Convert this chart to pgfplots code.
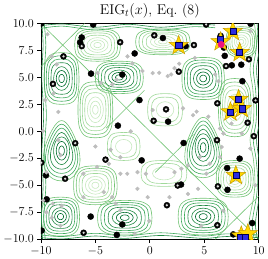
\documentclass[border=0pt]{standalone}
\usepackage{pgfplots}
\usepackage{pgfplotstable}
\pgfplotsset{compat=1.18}
\definecolor{g1}{HTML}{C7E9C0}
\definecolor{g2}{HTML}{A1D99B}
\definecolor{g3}{HTML}{74C476}
\definecolor{g4}{HTML}{41AB5D}
\definecolor{g5}{HTML}{238B45}
\definecolor{g6}{HTML}{006D2C}
\definecolor{grayp}{HTML}{BDBDBD}
\definecolor{starc}{HTML}{FFD700}
\definecolor{stare}{HTML}{C89B00}
\definecolor{sqc}{HTML}{2B2BE0}
\definecolor{pinkc}{HTML}{F0147F}
\pgfdeclareplotmark{fstar}{%
 \pgfpathmoveto{\pgfqpoint{0pt}{\pgfplotmarksize}}%
 \pgfpathlineto{\pgfqpoint{-0.247\pgfplotmarksize}{0.340\pgfplotmarksize}}%
 \pgfpathlineto{\pgfqpoint{-0.951\pgfplotmarksize}{0.309\pgfplotmarksize}}%
 \pgfpathlineto{\pgfqpoint{-0.399\pgfplotmarksize}{-0.130\pgfplotmarksize}}%
 \pgfpathlineto{\pgfqpoint{-0.588\pgfplotmarksize}{-0.809\pgfplotmarksize}}%
 \pgfpathlineto{\pgfqpoint{0pt}{-0.42\pgfplotmarksize}}%
 \pgfpathlineto{\pgfqpoint{0.588\pgfplotmarksize}{-0.809\pgfplotmarksize}}%
 \pgfpathlineto{\pgfqpoint{0.399\pgfplotmarksize}{-0.130\pgfplotmarksize}}%
 \pgfpathlineto{\pgfqpoint{0.951\pgfplotmarksize}{0.309\pgfplotmarksize}}%
 \pgfpathlineto{\pgfqpoint{0.247\pgfplotmarksize}{0.340\pgfplotmarksize}}%
 \pgfpathclose\pgfusepathqfillstroke}
% unit ring shapes
\pgfplotstableread{
u v
1 0
0.924 0.383
0.707 0.707
0.383 0.924
0 1
-0.383 0.924
-0.707 0.707
-0.924 0.383
-1 0
-0.924 -0.383
-0.707 -0.707
-0.383 -0.924
0 -1
0.383 -0.924
0.707 -0.707
0.924 -0.383
1 0
0.924 0.383
}\tblC
\pgfplotstableread{
u v
1 0
0.949 0.527
0.794 0.794
0.527 0.949
0 1
-0.527 0.949
-0.794 0.794
-0.949 0.527
-1 0
-0.949 -0.527
-0.794 -0.794
-0.527 -0.949
0 -1
0.527 -0.949
0.794 -0.794
0.949 -0.527
1 0
0.949 0.527
}\tblS
\pgfplotstableread{
u v
1 0
0.80 0.383
0.53 0.707
0.26 0.924
0 1
-0.26 0.924
-0.53 0.707
-0.80 0.383
-1 0
-1.05 -0.383
-0.88 -0.707
-0.51 -0.924
0 -1
0.51 -0.924
0.88 -0.707
1.05 -0.383
1 0
0.80 0.383
}\tblT
\newcommand{\ring}[6]{\addplot[smooth,tension=0.6,draw=#6,line width=0.6pt,forget plot] table[x expr={#2+#4*\thisrow{u}}, y expr={#3+#5*\thisrow{v}}]{#1};}
\newcommand{\nestD}[5]{%
 \ring{\tblC}{#2}{#3}{0.16*#4}{0.16*#5}{g6}%
 \ring{\tblC}{#2}{#3}{0.31*#4}{0.31*#5}{g6}%
 \ring{\tblC}{#2}{#3}{0.46*#4}{0.46*#5}{g5}%
 \ring{#1}{#2}{#3}{0.61*#4}{0.61*#5}{g5}%
 \ring{#1}{#2}{#3}{0.75*#4}{0.75*#5}{g4}%
 \ring{#1}{#2}{#3}{0.88*#4}{0.88*#5}{g4}%
 \ring{#1}{#2}{#3}{1.0*#4}{1.0*#5}{g3}}
\newcommand{\nestL}[5]{%
 \ring{\tblC}{#2}{#3}{0.16*#4}{0.16*#5}{g1}%
 \ring{\tblC}{#2}{#3}{0.31*#4}{0.31*#5}{g1}%
 \ring{\tblC}{#2}{#3}{0.46*#4}{0.46*#5}{g1}%
 \ring{#1}{#2}{#3}{0.61*#4}{0.61*#5}{g2}%
 \ring{#1}{#2}{#3}{0.75*#4}{0.75*#5}{g2}%
 \ring{#1}{#2}{#3}{0.88*#4}{0.88*#5}{g3}%
 \ring{#1}{#2}{#3}{1.0*#4}{1.0*#5}{g3}}
\newcommand{\nestLs}[5]{%
 \ring{\tblC}{#2}{#3}{0.5*#4}{0.5*#5}{g1}%
 \ring{#1}{#2}{#3}{0.78*#4}{0.78*#5}{g2}%
 \ring{#1}{#2}{#3}{1.0*#4}{1.0*#5}{g2}}
\begin{document}
\begin{tikzpicture}
\begin{axis}[
 scale only axis, width=216pt, height=214pt,
 xmin=-10,xmax=10,ymin=-10,ymax=10,
 xtick={-10,-5,0,5,10},
 ytick={-10,-7.5,-5,-2.5,0,2.5,5,7.5,10},
 tick align=outside, tick pos=left, major tick length=3.5pt,
 tick style={black, line width=0.7pt},
 yticklabel style={/pgf/number format/.cd,fixed,fixed zerofill,precision=1},
 ticklabel style={font=\fontsize{12}{12}\selectfont},
 title={EIG$_t(x)$, Eq.~(8)},
 title style={font=\fontsize{14}{16}\selectfont, yshift=-4pt},
 axis line style={black, line width=0.8pt},
 clip marker paths=true,
]
% ---- contours: maxima (dark) ----
\nestD{\tblS}{-8.1}{4.9}{1.6}{2.4}
\nestD{\tblS}{-2.8}{5.0}{2.2}{1.5}
\nestD{\tblS}{4.9}{4.9}{1.95}{1.95}
\nestD{\tblT}{-8.1}{-1.8}{1.6}{2.8}
\nestD{\tblT}{4.9}{-1.5}{1.6}{2.8}
\nestD{\tblS}{-8.2}{-7.9}{1.75}{1.8}
\nestD{\tblS}{-2.3}{-8.0}{2.5}{1.6}
\nestD{\tblS}{4.9}{-7.9}{2.3}{1.7}
% ---- contours: minima (light) ----
\nestLs{\tblS}{-2.4}{-1.4}{1.5}{1.3}
\nestL{\tblS}{-4.8}{8.0}{2.1}{1.5}
\nestL{\tblS}{1.2}{8.3}{2.5}{1.2}
\nestL{\tblS}{-5.0}{2.0}{1.6}{2.6}
\nestLs{\tblS}{1.4}{2.0}{1.6}{1.5}
\nestL{\tblS}{7.8}{2.2}{1.5}{2.7}
\nestL{\tblS}{-5.0}{-5.0}{2.0}{1.8}
\nestLs{\tblS}{1.3}{-3.9}{2.1}{1.2}
\nestL{\tblS}{7.8}{-4.4}{1.7}{1.7}
\nestL{\tblS}{8.4}{8.3}{1.4}{1.4}
% ---- saddle lines ----
\addplot[g3,line width=0.6pt,forget plot] coordinates {(-10,10) (10,-10)};
\addplot[g3,line width=0.6pt,forget plot] coordinates {(-10,6) (-6,10)};
\addplot[g3,line width=0.6pt,forget plot] coordinates {(6,-10) (10,-6)};
\addplot[g3,line width=0.6pt,forget plot] coordinates {(-4,0.3) (-0.5,3.8)};
\addplot[g3,line width=0.6pt,forget plot] coordinates {(0.5,-3.8) (4,-0.3)};
% ---- edge crowding ----
\addplot[smooth,g3,line width=0.6pt,forget plot] coordinates {(9.3,-10) (9.1,-8.5) (9.55,-6) (9.65,-4.4) (9.5,-2.5) (9.2,-0.8) (9.5,0.8) (9.55,2.2) (9.45,4) (9.2,5.8) (9.5,7.5) (9.7,9) (9.6,10)};
\addplot[smooth,g4,line width=0.6pt,forget plot] coordinates {(9.6,-10) (9.4,-8.5) (9.8,-6) (9.9,-4.4) (9.75,-2.5) (9.5,-0.8) (9.75,0.8) (9.8,2.2) (9.7,4) (9.5,5.8) (9.75,7.5) (9.9,9) (9.85,10)};
\addplot[smooth,g5,line width=0.6pt,forget plot] coordinates {(9.9,-10) (9.7,-8.5) (10.05,-6) (10.1,-4.4) (10,-2.5) (9.8,-0.8) (10.05,0.8) (10.1,2.2) (9.95,4) (9.8,5.8) (10.05,7.5)};
\addplot[smooth,g4,line width=0.6pt,forget plot] coordinates {(-9.6,-10) (-9.75,-8) (-9.55,-5) (-9.7,-2) (-9.5,1.5) (-9.7,5) (-9.55,8) (-9.7,10)};
\addplot[smooth,g5,line width=0.6pt,forget plot] coordinates {(-9.85,-10) (-9.95,-8) (-9.8,-5) (-9.92,-2) (-9.75,1.5) (-9.92,5) (-9.8,8) (-9.92,10)};
\addplot[smooth,g4,line width=0.6pt,forget plot] coordinates {(-10,9.55) (-8,9.75) (-5,9.4) (-2,9.7) (1,9.4) (4,9.7) (6,9.6)};
\addplot[smooth,g5,line width=0.6pt,forget plot] coordinates {(-10,9.8) (-8,9.95) (-5,9.65) (-2,9.92) (1,9.65) (4,9.92) (6,9.85)};
\addplot[smooth,g4,line width=0.6pt,forget plot] coordinates {(-10,-9.6) (-8,-9.75) (-5,-9.45) (-2.3,-9.7) (1,-9.4) (4.9,-9.7) (7,-9.5) (10,-9.6)};
\addplot[smooth,g5,line width=0.6pt,forget plot] coordinates {(-10,-9.85) (-8,-9.97) (-5,-9.7) (-2.3,-9.92) (1,-9.65) (4.9,-9.92) (7,-9.75) (10,-9.85)};
% ---- black points ----
\addplot[only marks, mark=*, mark size=3pt, black] coordinates {
(-9.95,10.0) (-5.2,9.9) (-6.25,8.7) (-6.4,8.25) (-7.93,6.95) (-6.25,7.9) (-8.9,4.4)
(-5.4,5.35) (-2.72,8.26) (-1.39,7.22) (0.41,8.9) (1.2,8.65) (-2.53,5.26) (2.66,5.53)
(3.3,7.9) (4.05,8.0) (5.17,9.9) (9.25,9.97) (6.5,8.85) (6.8,7.76) (6.88,7.0) (7.0,6.05)
(7.53,6.12) (8.4,6.18) (9.1,6.68) (8.5,4.65) (-0.95,2.9) (1.49,2.04) (0.35,0.98)
(1.68,0.9) (-2.93,0.53) (3.1,-1.08) (-0.75,-2.69) (6.2,2.6) (9.7,2.87) (8.98,0.8)
(9.55,-0.45) (6.17,-0.82) (8.25,-2.53) (7.1,-3.4) (7.13,-5.42) (6.25,-5.1) (2.56,-5.02)
(2.87,-4.93) (1.57,-6.85) (6.2,-8.7) (7.66,-9.55) (9.4,-8.5) (-6.85,-1.1) (-9.97,-2.9)
(-9.54,-4.08) (-7.78,-4.39) (-4.07,-2.62) (-9.47,-6.3) (-5.43,-7.9) (-2.53,-8.63)
(-9.94,-9.2) (-6.08,-9.4) (-3.03,-9.6)
};
% ---- gray points ----
\addplot[only marks, mark=*, mark size=1.9pt, grayp, mark options={draw=grayp,fill=grayp}] coordinates {
(-9.4,9.0) (-8.55,6.2) (-9.0,6.95) (-8.85,3.5) (-9.6,2.9) (-8.4,1.8) (-9.8,0.05)
(-8.4,-0.8) (-8.2,-2.2) (-9.5,-3.8) (-9.8,-6.4) (-8.9,-6.7) (-8.1,-6.9) (-9.5,-7.5)
(-9.0,-8.0) (-8.2,-8.75) (-4.8,5.4) (-4.5,4.5) (-3.45,4.35) (-3.05,4.8) (-2.05,6.95)
(-1.6,6.3) (-0.68,5.6) (0.26,5.4) (0.86,5.43) (1.64,5.12) (1.96,5.28) (2.7,6.27)
(2.27,5.86) (4.13,6.8) (6.0,5.28) (6.3,4.65) (9.25,9.3) (3.05,2.13) (3.97,1.5)
(4.3,1.83) (5.37,1.36) (6.45,0.27) (0.26,1.97) (-1.75,0.0) (-5.0,-1.4) (-3.6,-1.7)
(-2.7,-2.4) (-3.76,-3.0) (-4.85,-3.3) (-6.1,-3.93) (-2.7,-3.93) (-2.07,-3.93)
(-1.13,-3.78) (-0.36,-3.93) (-4.23,-5.63) (-3.45,-6.1) (-1.14,-5.33) (-0.2,-6.1)
(-6.1,-6.1) (-2.7,-7.3) (-3.14,-6.7) (2.27,-3.78) (2.9,-3.47) (3.5,-3.16) (4.6,-2.38)
(5.5,-3.0) (5.2,-3.93) (6.45,-2.38) (6.6,-1.45) (6.75,-0.2) (7.5,0.73) (8.45,-0.2)
(9.23,-1.6) (4.43,-5.33) (3.5,-5.8) (1.8,-6.1) (-0.05,-8.3) (-1.4,-9.5) (4.7,-8.76)
(6.75,-7.36) (9.7,-5.0)
};
% ring centres
\addplot[only marks, mark=*, mark size=1.8pt, mark options={draw=none,fill=gray!25}] coordinates {
(-7.93,6.95) (-6.25,7.9) (-8.9,4.4) (-2.72,8.26) (0.41,8.9) (2.66,5.53) (4.05,8.0)
(5.17,9.9) (7.0,6.05) (9.1,6.68) (1.49,2.04) (0.35,0.98) (6.2,2.6) (9.7,2.87)
(8.98,0.8) (9.55,-0.45) (6.17,-0.82) (6.25,-5.1) (2.56,-5.02) (1.57,-6.85) (6.2,-8.7)
(-6.85,-1.1) (-9.97,-2.9) (-7.78,-4.39) (-4.07,-2.62) (-6.08,-9.4)
};
% ---- stars ----
\addplot[only marks, mark=fstar, mark size=10pt, color=stare, fill=starc, mark options={solid,fill=starc,draw=stare,line width=0.5pt}] coordinates {
(2.65,7.95) (7.62,9.25) (8.25,7.3) (6.5,8.3) (8.15,2.95) (7.4,1.8) (8.45,2.1) (7.9,-4.1) (8.4,-9.7) (9.0,-9.5)
};
\addplot[only marks, mark=square*, mark size=3pt, color=black!70!blue, mark options={fill=sqc,draw=black!70!blue,line width=0.4pt}] coordinates {
(2.65,7.95) (7.62,9.25) (8.25,7.3) (6.5,8.55) (8.15,2.95) (7.4,1.8) (8.45,2.1) (7.9,-4.1) (8.3,-9.85) (8.8,-9.85)
};
\addplot[only marks, mark=*, mark size=3.2pt, mark options={fill=pinkc,draw=pinkc}] coordinates {(6.55,8.05)};
\end{axis}
\end{tikzpicture}
\end{document}
